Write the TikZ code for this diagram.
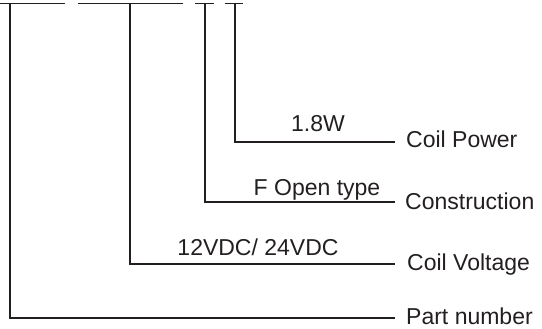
\documentclass[tikz,border=0pt]{standalone}
\usepackage{fontspec}
\setmainfont{Liberation Sans}
\definecolor{ink}{HTML}{231F20}
\begin{document}
\begin{tikzpicture}[x=1pt,y=-1pt,
  wire/.style={draw=ink,line width=1.2pt},
  lbl/.style={inner sep=0pt,text=ink,font=\fontsize{23}{26}\selectfont,anchor=base west,text depth=0pt},
  val/.style={inner sep=0pt,text=ink,font=\fontsize{23}{26}\selectfont,anchor=base}]
\useasboundingbox (0,0) rectangle (542,329);
% top code segments
\coordinate (s1a) at (0,3.5);   \coordinate (s1b) at (65,3.5);
\coordinate (s2a) at (78,3.5);  \coordinate (s2b) at (183,3.5);
\coordinate (s3a) at (195,3.5); \coordinate (s3b) at (214,3.5);
\coordinate (s4a) at (225,3.5); \coordinate (s4b) at (243,3.5);
\draw[wire] (s1a) -- (s1b);
\draw[wire] (s2a) -- (s2b);
\draw[wire] (s3a) -- (s3b);
\draw[wire] (s4a) -- (s4b);
% tap points
\coordinate (t1) at (10,3.5);
\coordinate (t2) at (130,3.5);
\coordinate (t3) at (205,3.5);
\coordinate (t4) at (235,3.5);
% line ends
\coordinate (e1) at (395,318);
\coordinate (e2) at (395,264);
\coordinate (e3) at (395,202);
\coordinate (e4) at (395,142);
\draw[wire] (t1) |- (e1);
\draw[wire] (t2) |- (e2);
\draw[wire] (t3) |- (e3);
\draw[wire] (t4) |- (e4);
% labels
\node[lbl] (pn) at (406,324.5) {Part number};
\node[lbl] (cv) at (407,270) {Coil Voltage};
\node[lbl] (cn) at (405,210) {Construction};
\node[lbl] (cp) at (406,148) {Coil Power};
% values
\node[val] (v4) at (318,132) {1.8W};
\node[val] (v3) at (317,196) {F Open type};
\node[val] (v2) at (258,255) {12VDC/ 24VDC};
\end{tikzpicture}
\end{document}
